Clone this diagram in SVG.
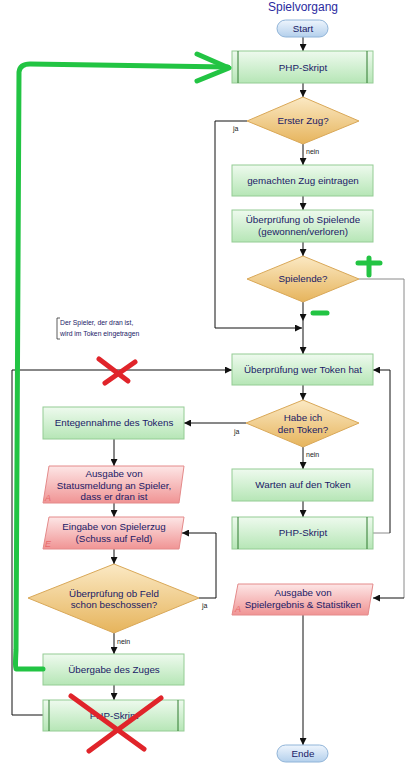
<svg xmlns="http://www.w3.org/2000/svg" width="415" height="764" viewBox="0 0 415 764">
<defs>
<linearGradient id="gBox" x1="0" y1="0" x2="0" y2="1"><stop offset="0" stop-color="#eefaee"/><stop offset="1" stop-color="#b6e6b6"/></linearGradient>
<linearGradient id="gDia" x1="0" y1="0" x2="0" y2="1"><stop offset="0" stop-color="#fbe9c4"/><stop offset="1" stop-color="#e6b45c"/></linearGradient>
<linearGradient id="gIO" x1="0" y1="0" x2="0" y2="1"><stop offset="0" stop-color="#fde6e6"/><stop offset="1" stop-color="#f09494"/></linearGradient>
<linearGradient id="gPill" x1="0" y1="0" x2="0" y2="1"><stop offset="0" stop-color="#eef5fd"/><stop offset="1" stop-color="#b4d0ec"/></linearGradient>
<marker id="ar" viewBox="0 0 8 8" refX="8" refY="4" markerWidth="7" markerHeight="7" markerUnits="userSpaceOnUse" orient="auto"><path d="M0,0 L8,4 L0,8 z" fill="#111"/></marker>
</defs>
<style>
.box{fill:url(#gBox);stroke:#94cc94;stroke-width:1}
.dia{fill:url(#gDia);stroke:#d9a858;stroke-width:1}
.io{fill:url(#gIO);stroke:#e48a8a;stroke-width:1}
.pill{fill:url(#gPill);stroke:#90b4d8;stroke-width:1}
.in{stroke:#2f7a2f;stroke-width:1}
.t{font-family:"Liberation Sans",Arial,sans-serif;font-size:9.8px;fill:#1a1a66;text-anchor:middle}
.lbl{font-family:"Liberation Sans",Arial,sans-serif;font-size:7px;fill:#222}
.ia{font-family:"Liberation Sans",Arial,sans-serif;font-size:9px;font-style:italic;fill:#e86a6a}
.c{fill:none;stroke:#111;stroke-width:1}
.cg{fill:none;stroke:#8a8a8a;stroke-width:1}
.green{fill:none;stroke:#22c443;stroke-width:5;stroke-linecap:round;stroke-linejoin:round}
.red{fill:none;stroke:#e0242a;stroke-width:5;stroke-linecap:round}
</style>
<rect width="415" height="764" fill="#fff"/>
<text x="303" y="11" class="t" style="font-size:12px;fill:#2a2aa0">Spielvorgang</text>

<g id="connectors">
<path class="c" d="M303,37 V51" marker-end="url(#ar)"/>
<path class="c" d="M303,83 V97" marker-end="url(#ar)"/>
<path class="c" d="M303,144 V165" marker-end="url(#ar)"/>
<path class="c" d="M303,196 V210" marker-end="url(#ar)"/>
<path class="c" d="M303,242 V256" marker-end="url(#ar)"/>
<path class="c" d="M303,302 V321" marker-end="url(#ar)"/>
<path class="c" d="M303,321 V354" marker-end="url(#ar)"/>
<path class="c" d="M247,121 H215 V328 H302" marker-end="url(#ar)"/>
<path class="cg" d="M359,279 H404 V598"/>
<path class="c" d="M404,598 H373" marker-end="url(#ar)"/>
<path class="c" d="M303,385 V400" marker-end="url(#ar)"/>
<path class="c" d="M246,423 H184" marker-end="url(#ar)"/>
<path class="c" d="M303,447 V469" marker-end="url(#ar)"/>
<path class="c" d="M303,501 V517" marker-end="url(#ar)"/>
<path class="cg" d="M373,533 H390"/>
<path class="c" d="M390,533 V370 H373" marker-end="url(#ar)"/>
<path class="c" d="M303,615 V745" marker-end="url(#ar)"/>
<path class="c" d="M114,439 V466" marker-end="url(#ar)"/>
<path class="c" d="M114,503 V517" marker-end="url(#ar)"/>
<path class="c" d="M114,549 V564" marker-end="url(#ar)"/>
<path class="c" d="M199,598 H216 V533 H182" marker-end="url(#ar)"/>
<path class="c" d="M114,633 V654" marker-end="url(#ar)"/>
<path class="c" d="M114,685 V700" marker-end="url(#ar)"/>
<path class="c" d="M43,715 H12 V370 H232" marker-end="url(#ar)"/>
<text x="233" y="131" class="lbl">ja</text>
<text x="306" y="154" class="lbl">nein</text>
<text x="234" y="434" class="lbl">ja</text>
<text x="306" y="457" class="lbl">nein</text>
<text x="202" y="608" class="lbl">ja</text>
<text x="117" y="644" class="lbl">nein</text>
</g>

<g id="start"><rect class="pill" x="277" y="20" width="51" height="17" rx="8.5"/><text x="303" y="32" class="t">Start</text></g>
<g id="php1"><rect class="box" x="232" y="51" width="141" height="32"/><line class="in" x1="238" y1="51" x2="238" y2="83"/><line class="in" x1="367" y1="51" x2="367" y2="83"/><text x="303" y="71" class="t">PHP-Skript</text></g>
<g id="ersterzug"><polygon class="dia" points="303,97 359,121 303,144 247,121"/><text x="303" y="124" class="t">Erster Zug?</text></g>
<g id="eintragen"><rect class="box" x="232" y="165" width="141" height="31"/><text x="303" y="184" class="t">gemachten Zug eintragen</text></g>
<g id="pruefende"><rect class="box" x="232" y="210" width="141" height="32"/><text x="303" y="223" class="t">Überprüfung ob Spielende</text><text x="303" y="235" class="t">(gewonnen/verloren)</text></g>
<g id="spielende"><polygon class="dia" points="303,256 359,279 303,302 247,279"/><text x="303" y="282" class="t">Spielende?</text></g>
<g id="note"><path d="M60,318 H57 V339 H60" fill="none" stroke="#333" stroke-width="0.8"/><text x="60" y="325" class="lbl" style="font-size:6.8px;fill:#1a1a66">Der Spieler, der dran ist,</text><text x="60" y="336" class="lbl" style="font-size:6.8px;fill:#1a1a66">wird im Token eingetragen</text></g>
<g id="wertoken"><rect class="box" x="232" y="354" width="141" height="31"/><text x="303" y="373" class="t">Überprüfung wer Token hat</text></g>
<g id="habeich"><polygon class="dia" points="303,400 359,423 303,447 246,423"/><text x="303" y="421" class="t">Habe ich</text><text x="303" y="433" class="t">den Token?</text></g>
<g id="entgegen"><rect class="box" x="43" y="407" width="141" height="32"/><text x="114" y="426" class="t">Entegennahme des Tokens</text></g>
<g id="warten"><rect class="box" x="232" y="469" width="141" height="32"/><text x="303" y="488" class="t">Warten auf den Token</text></g>
<g id="php2"><rect class="box" x="232" y="517" width="141" height="32"/><line class="in" x1="238" y1="517" x2="238" y2="549"/><line class="in" x1="367" y1="517" x2="367" y2="549"/><text x="303" y="536" class="t">PHP-Skript</text></g>
<g id="statusmeldung"><polygon class="io" points="49,466 184,466 179,503 43,503"/><text x="114" y="477" class="t">Ausgabe von</text><text x="114" y="489" class="t">Statusmeldung an Spieler,</text><text x="114" y="500" class="t">dass er dran ist</text><text x="45" y="501" class="ia">A</text></g>
<g id="eingabe"><polygon class="io" points="49,517 184,517 179,549 43,549"/><text x="114" y="530" class="t">Eingabe von Spielerzug</text><text x="114" y="542" class="t">(Schuss auf Feld)</text><text x="45" y="547" class="ia">E</text></g>
<g id="feldpruef"><polygon class="dia" points="114,564 199,598 114,633 28,598"/><text x="114" y="597" class="t">Überprüfung ob Feld</text><text x="114" y="608" class="t">schon beschossen?</text></g>
<g id="uebergabe"><rect class="box" x="43" y="654" width="141" height="31"/><text x="114" y="673" class="t">Übergabe des Zuges</text></g>
<g id="php3"><rect class="box" x="43" y="700" width="141" height="31"/><line class="in" x1="49" y1="700" x2="49" y2="731"/><line class="in" x1="178" y1="700" x2="178" y2="731"/><text x="114" y="719" class="t">PHP-Skript</text></g>
<g id="ergebnis"><polygon class="io" points="238,584 373,584 368,615 232,615"/><text x="303" y="596" class="t">Ausgabe von</text><text x="303" y="608" class="t">Spielergebnis &amp; Statistiken</text><text x="235" y="612" class="ia">A</text></g>
<g id="ende"><rect class="pill" x="277" y="745" width="51" height="17" rx="8.5"/><text x="303" y="757" class="t">Ende</text></g>

<g id="annotations">
<path class="green" d="M43,669 H16 Q15,669 16,650 L19,72 Q20,64 30,64 L228,67"/>
<path class="green" d="M197,54 L229,68 L197,81"/>
<path class="green" d="M369,258 V275 M358,263 H380"/>
<path class="green" d="M313,313 H327"/>
<path class="red" d="M99,359 L128,381 M135,362 L105,383"/>
<path class="red" d="M71,696 L144,749 M161,698 L89,751"/>
</g>
</svg>
